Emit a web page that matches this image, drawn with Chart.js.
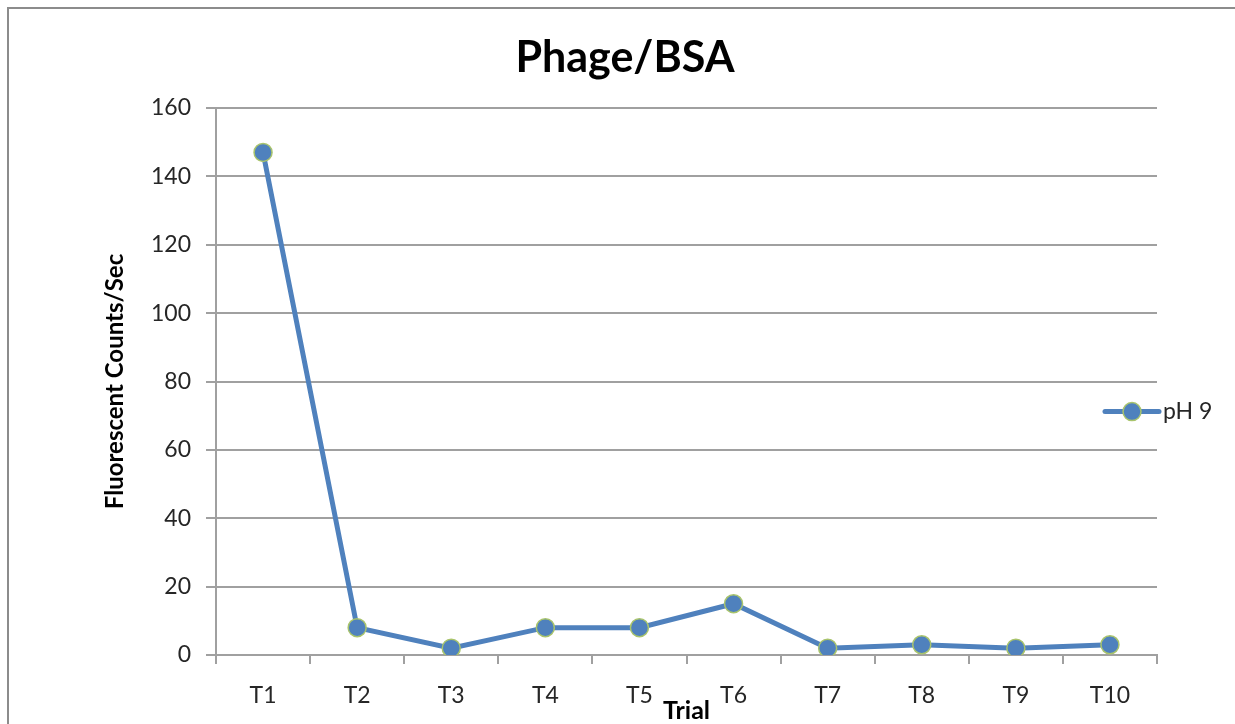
<!DOCTYPE html>
<html>
<head>
<meta charset="utf-8">
<title>Phage/BSA</title>
<script src="https://cdn.jsdelivr.net/npm/chart.js@4.4.1/dist/chart.umd.min.js"></script>
<style>
  html, body { margin: 0; padding: 0; background: #ffffff; }
  #wrap { position: relative; width: 1235px; height: 724px; overflow: hidden; }
  canvas { display: block; }
</style>
</head>
<body>
<div id="wrap"><canvas id="chart" width="1235" height="724"></canvas></div>
<script>
// Trial labels and fluorescence readings
const trials = ['T1', 'T2', 'T3', 'T4', 'T5', 'T6', 'T7', 'T8', 'T9', 'T10'];
const ph9Counts = [147, 8, 2, 8, 8, 15, 2, 3, 2, 3];
const seriesName = 'pH 9';
const yTicks = [0, 20, 40, 60, 80, 100, 120, 140, 160];

const FONT = 'Lato, Carlito, Calibri, "Open Sans", sans-serif';
const LINE_BLUE = '#4f81bd';
const MARKER_EDGE = '#a9c46c';
const GRID = '#a0a0a0';
const PAD_LEFT = 93;

// Gray frame around the whole chart
const framePlugin = {
  id: 'frame',
  beforeDraw(chart) {
    const ctx = chart.ctx;
    ctx.save();
    ctx.strokeStyle = '#8c8c8c';
    ctx.lineWidth = 2;
    ctx.strokeRect(8, 8, chart.width + 20, chart.height + 20);
    ctx.restore();
  }
};

// Legend entry on the right: line segment with a marker and the series name
const sideLegend = {
  id: 'sideLegend',
  afterDatasetsDraw(chart) {
    const ctx = chart.ctx;
    const ds = chart.data.datasets[0];
    const area = chart.chartArea;
    const x0 = area.right - 52;
    const y = area.top + (area.bottom - area.top) * 0.555;
    ctx.save();
    ctx.strokeStyle = ds.borderColor;
    ctx.lineWidth = ds.borderWidth;
    ctx.lineCap = 'round';
    ctx.beginPath();
    ctx.moveTo(x0, y);
    ctx.lineTo(x0 + 54, y);
    ctx.stroke();
    ctx.beginPath();
    ctx.arc(x0 + 27, y, ds.pointRadius, 0, Math.PI * 2);
    ctx.fillStyle = ds.pointBackgroundColor;
    ctx.fill();
    ctx.lineWidth = ds.pointBorderWidth;
    ctx.strokeStyle = ds.pointBorderColor;
    ctx.stroke();
    ctx.fillStyle = '#262626';
    ctx.font = '23px ' + FONT;
    ctx.textAlign = 'left';
    ctx.textBaseline = 'middle';
    ctx.fillText(ds.label, x0 + 58, y);
    ctx.restore();
  }
};

new Chart(document.getElementById('chart'), {
  type: 'line',
  data: {
    labels: trials,
    datasets: [{
      label: seriesName,
      data: ph9Counts,
      borderColor: LINE_BLUE,
      borderWidth: 5,
      pointRadius: 9,
      pointHoverRadius: 9,
      pointBackgroundColor: LINE_BLUE,
      pointBorderColor: MARKER_EDGE,
      pointBorderWidth: 1.5,
      tension: 0,
      fill: false
    }]
  },
  options: {
    responsive: false,
    animation: false,
    devicePixelRatio: 1,
    layout: { padding: { left: PAD_LEFT, right: 78, top: 0, bottom: 0 } },
    plugins: {
      legend: { display: false },
      tooltip: { enabled: false },
      title: {
        display: true,
        text: 'Phage/BSA',
        color: '#000000',
        font: { family: FONT, size: 43, weight: 'bold', lineHeight: 1.2 },
        padding: { top: 32, bottom: 24.4 }
      }
    },
    scales: {
      x: {
        type: 'category',
        offset: true,
        grid: {
          display: true,
          offset: true,
          drawOnChartArea: false,
          drawTicks: true,
          tickLength: 9,
          color: GRID,
          lineWidth: 2
        },
        border: { display: true, color: GRID, width: 2 },
        ticks: {
          color: '#262626',
          padding: 18,
          maxRotation: 0,
          autoSkip: false,
          font: { family: FONT, size: 23 }
        },
        title: {
          display: true,
          text: 'Trial',
          color: '#000000',
          font: { family: FONT, size: 25, weight: 'bold', lineHeight: 1.2 },
          padding: { top: 0, bottom: -2 }
        },
        afterFit(scale) { scale.height = 69; }
      },
      y: {
        min: 0,
        max: 160,
        afterBuildTicks(scale) { scale.ticks = yTicks.map(v => ({ value: v })); },
        grid: {
          color: GRID,
          lineWidth: 2,
          drawTicks: true,
          tickLength: 10
        },
        border: { display: true, color: GRID, width: 2 },
        ticks: {
          color: '#262626',
          padding: 15,
          font: { family: FONT, size: 23 }
        },
        title: {
          display: true,
          text: 'Fluorescent Counts/Sec',
          color: '#000000',
          font: { family: FONT, size: 24, weight: 'bold', lineHeight: 1.2 },
          padding: { top: 115 - PAD_LEFT - 14.4, bottom: 0 }
        },
        afterFit(scale) { scale.width = 216 - PAD_LEFT; }
      }
    }
  },
  plugins: [framePlugin, sideLegend]
});
</script>
</body>
</html>
